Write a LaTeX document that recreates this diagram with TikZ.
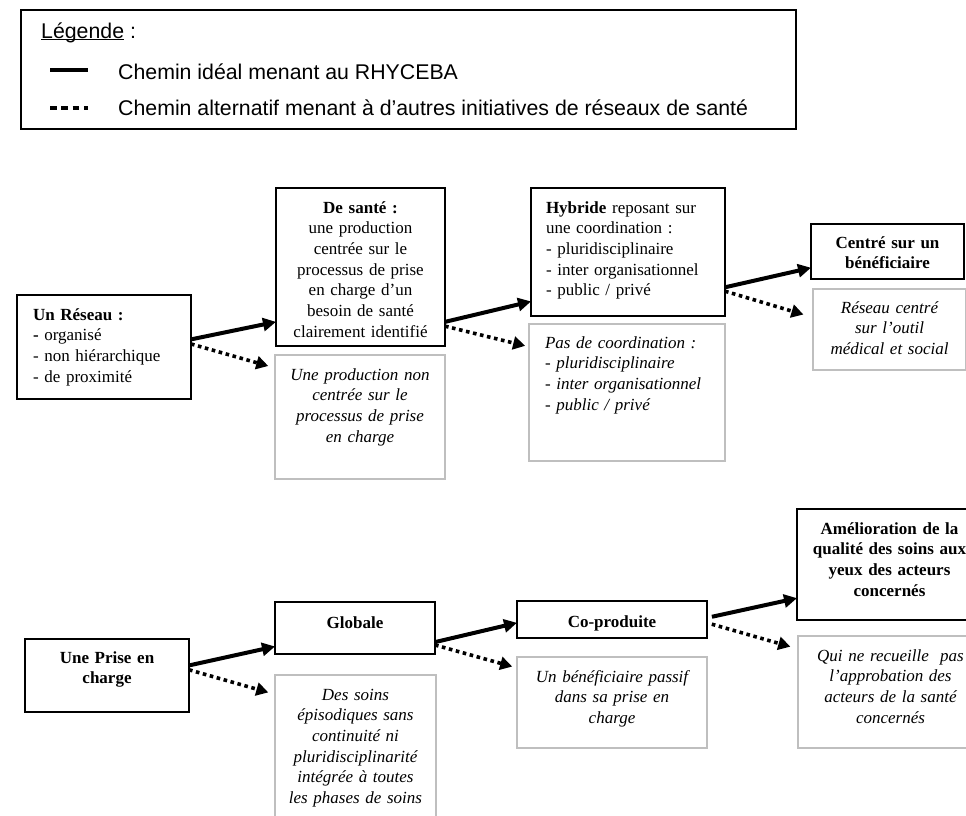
\documentclass[tikz,border=0pt]{standalone}
\usepackage{fontspec}
\setmainfont{Liberation Serif}
\newfontfamily\legendfont{Liberation Sans}
\usetikzlibrary{arrows.meta}

\begin{document}
\begin{tikzpicture}[x=1pt,y=-1pt,
  box/.style={draw,line width=1.3pt,outer sep=0pt,inner ysep=0pt,inner xsep=4pt,
    anchor=north west,align=center,font=\fontsize{17}{20.7}\selectfont},
  keybox/.style={box,font=\fontsize{17}{20.7}\selectfont\bfseries},
  altbox/.style={box,draw=gray!50,font=\fontsize{17}{20.7}\selectfont\itshape},
  legendtext/.style={anchor=base west,inner sep=0pt,font=\legendfont\fontsize{21.3}{25}\selectfont},
  ideal/.style={line width=4pt,-{Triangle[length=13pt,width=13pt]}},
  other/.style={line width=3.6pt,dash pattern=on 3.6pt off 3.6pt,-{Triangle[length=12pt,width=13pt]}}]
  \useasboundingbox (0,0) rectangle (966,816);

  \draw[line width=1.3pt] (21,10) rectangle (796,129);
  \node[legendtext] (legende) at (41,38) {\underline{\smash{Légende}} :};
  \node[legendtext] (legideal) at (118,79) {Chemin idéal menant au RHYCEBA};
  \node[legendtext] (legother) at (118,115) {Chemin alternatif menant à d’autres initiatives de réseaux de santé};
  \draw[line width=4.5pt] (50,70) -- (88,70);
  \draw[line width=4.7pt,dash pattern=on 6.7pt off 4.6pt] (50,108) -- (87.5,108);

  \node[box,text width=142pt,inner xsep=16pt,align=left,text height=25pt,text depth=79pt] (reseau) at (17,295)
    {\textbf{Un Réseau :}\\\textbf{-} organisé\\- non hiérarchique\\- de proximité};
  \node[box,text width=161pt,text height=25pt,text depth=133pt] (sante) at (276,188)
    {\textbf{De santé :}\\une production\\centrée sur le\\processus de prise\\en charge d’un\\besoin de santé\\clairement identifié};
  \node[altbox,text width=162pt,text height=25pt,text depth=99pt] (nonsante) at (275,355)
    {Une production non\\centrée sur le\\processus de prise\\en charge};
  \node[box,text width=164pt,inner xsep=15pt,align=left,text height=25pt,text depth=103pt] (hybride) at (531,188)
    {\textbf{Hybride} reposant sur\\une coordination :\\- pluridisciplinaire\\- inter organisationnel\\- public / privé};
  \node[altbox,text width=164pt,inner xsep=16pt,align=left,text height=24pt,text depth=113pt] (nohybride) at (529,324)
    {Pas de coordination :\\- pluridisciplinaire\\- inter organisationnel\\- public / privé};
  \node[keybox,text width=145pt,text height=24pt,text depth=31pt] (centre) at (811,224)
    {Centré sur un\\bénéficiaire};
  \node[altbox,text width=145pt,text height=24pt,text depth=57pt] (outil) at (813,289)
    {Réseau centré\\sur l’outil\\médical et social};

  \node[keybox,text width=156pt,text height=24pt,text depth=49pt] (prise) at (25,639)
    {Une Prise en\\charge};
  \node[keybox,text width=152pt,text height=26pt,text depth=26pt] (globale) at (275,602) {Globale};
  \node[altbox,text width=153pt,text height=25pt,text depth=135pt] (episodique) at (275,675)
    {Des soins\\épisodiques sans\\continuité ni\\pluridisciplinarité\\intégrée à toutes\\les phases de soins};
  \node[keybox,text width=182pt,text height=26pt,text depth=11pt] (coproduite) at (517,601) {Co-produite};
  \node[altbox,text width=182pt,text height=25pt,text depth=66pt] (passif) at (517,657)
    {Un bénéficiaire passif\\dans sa prise en\\charge};
  \node[keybox,text width=177pt,text height=25pt,text depth=86pt] (qualite) at (797,509)
    {Amélioration de la\\qualité des soins aux\\yeux des acteurs\\concernés};
  \node[altbox,text width=177pt,text height=25pt,text depth=87pt] (approbation) at (798,636)
    {Qui ne recueille\ \ pas\\l’approbation des\\acteurs de la santé\\concernés};

  \draw[ideal] (reseau.5) -- (sante.213);
  \draw[other,shorten >=7pt] (reseau.2) -- (nonsante.150);
  \draw[ideal] (sante.-33) -- (hybride.207);
  \draw[other,shorten >=4pt] (sante.-35) -- (nohybride.155);
  \draw[ideal] (hybride.-20) -- (centre.192);
  \draw[other,shorten >=10pt] (hybride.-22) -- (outil.171);

  \draw[ideal] (prise.7) -- (globale.193);
  \draw[other,shorten >=7pt] (prise.4) -- (episodique.143);
  \draw[ideal] (globale.-10) -- (coproduite.182);
  \draw[other,shorten >=5pt] (globale.-12) -- (passif.160);
  \draw[ideal,shorten <=5pt] (coproduite.1) -- (qualite.200);
  \draw[other,shorten <=5pt,shorten >=8pt] (coproduite.-2) -- (approbation.155);
\end{tikzpicture}
\end{document}
